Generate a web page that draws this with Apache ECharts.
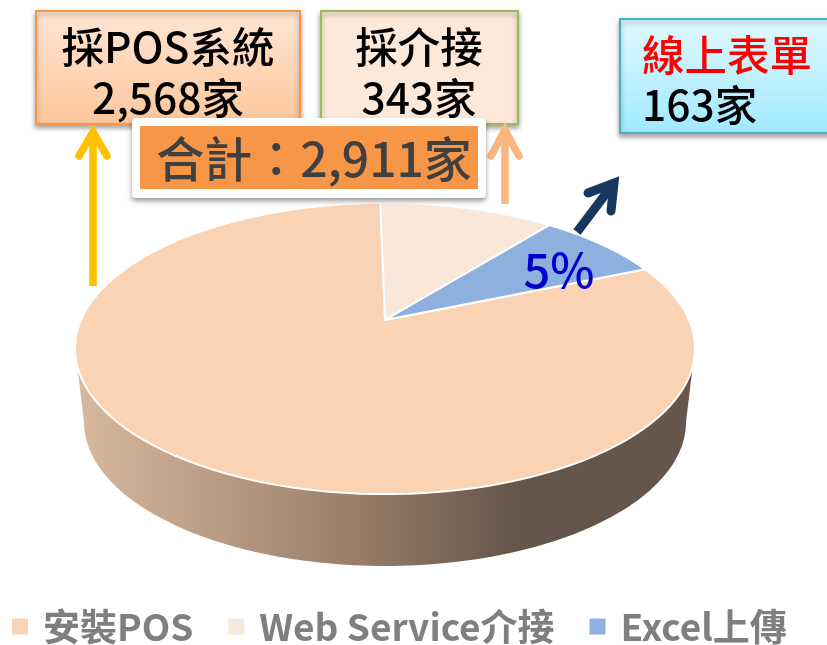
<!DOCTYPE html>
<html>
<head>
<meta charset="utf-8">
<style>
  html, body { margin: 0; padding: 0; background: #fff; }
  #chart { width: 827px; height: 645px; }
</style>
<script src="https://cdn.jsdelivr.net/npm/echarts@6/dist/echarts.min.js"></script>
</head>
<body>
<div id="chart"></div>
<script>
// slices, clockwise from the right-hand edge of the Excel slice (shares as drawn in the picture)
var sliceNames = ['安裝POS', 'Web Service介接', 'Excel上傳']
var sliceShares = [81.1, 11.0, 7.9]
var sliceColors = ['#fad2b4', '#f9e8da', '#8db0de']
var startAngle = 23

var posLines = ['採POS系統', '2,568家']
var webLines = ['採介接', '343家']
var excelLines = ['線上表單', '163家']
var totalLabel = '合計：2,911家'
var excelLabel = '5%'

var font = '"Noto Sans CJK TC", "Noto Sans", sans-serif'

// perspective view of the round pie top
function piePoint (deg) {
  var a = deg * Math.PI / 180
  var w = 1 + 0.196 * Math.sin(a)
  return [385 + 304 * Math.cos(a) / w, 320 - 140 * Math.sin(a) / w]
}

function sliceSeries (idx) {
  var total = sliceShares.reduce(function (s, v) { return s + v }, 0)
  var before = sliceShares.slice(0, idx).reduce(function (s, v) { return s + v }, 0)
  return {
    name: sliceNames[idx],
    type: 'custom',
    coordinateSystem: 'none',
    z: 3,
    silent: true,
    itemStyle: { color: sliceColors[idx] },
    data: [[sliceShares[idx]]],
    renderItem: function (params, api) {
      var from = startAngle - before / total * 360
      var span = api.value(0) / total * 360
      var points = [[385, 320]]
      for (var i = 0; i <= 120; i++) {
        points.push(piePoint(from - span * i / 120))
      }
      return {
        type: 'polygon',
        shape: { points: points },
        style: { fill: sliceColors[idx], stroke: '#fff', lineWidth: 2, lineJoin: 'round' }
      }
    }
  }
}

var wallSeries = {
  name: 'wall',
  type: 'custom',
  coordinateSystem: 'none',
  z: 2,
  silent: true,
  data: [[0]],
  renderItem: function () {
    var points = []
    var i
    for (i = 0; i <= 120; i++) {
      points.push(piePoint(198 + 144 * i / 120))
    }
    for (i = 0; i <= 120; i++) {
      var a = Math.PI * i / 120
      points.push([385 + 301 * Math.cos(a), 422 + 144 * Math.sin(a)])
    }
    return {
      type: 'polygon',
      shape: { points: points },
      style: {
        fill: {
          type: 'linear', x: 76, y: 0, x2: 695, y2: 0, global: true,
          colorStops: [
            { offset: 0, color: '#d9b99e' },
            { offset: 0.44, color: '#9a806b' },
            { offset: 0.71, color: '#65554a' },
            { offset: 1, color: '#65554a' }
          ]
        }
      }
    }
  }
}

function box (x, y, w, h, fill, stroke, z) {
  return {
    type: 'rect',
    z: z,
    shape: { x: x, y: y, width: w, height: h },
    style: {
      fill: fill,
      stroke: stroke,
      lineWidth: 2,
      shadowBlur: 5,
      shadowOffsetY: 3,
      shadowColor: 'rgba(0,0,0,0.35)'
    }
  }
}

function vGrad (top, bottom) {
  return {
    type: 'linear', x: 0, y: 0, x2: 0, y2: 1,
    colorStops: [{ offset: 0, color: top }, { offset: 1, color: bottom }]
  }
}

function label (str, x, y, size, color, align, z) {
  return {
    type: 'text',
    z: z,
    x: x,
    y: y,
    style: {
      text: str,
      fill: color,
      font: '500 ' + size + 'px ' + font,
      align: align,
      verticalAlign: 'middle'
    }
  }
}

function arrow (x1, y1, x2, y2, hx1, hy1, hx2, hy2, color, width, z) {
  return {
    type: 'group',
    z: z,
    children: [
      {
        type: 'line',
        z: z,
        shape: { x1: x1, y1: y1, x2: x2, y2: y2 },
        style: { stroke: color, lineWidth: width }
      },
      {
        type: 'polyline',
        z: z,
        shape: { points: [[hx1, hy1], [x2, y2], [hx2, hy2]] },
        style: { stroke: color, lineWidth: width, fill: null, lineCap: 'round', lineJoin: 'miter' }
      }
    ]
  }
}

var chart = echarts.init(document.getElementById('chart'))
chart.setOption({
  backgroundColor: '#fff',
  animation: false,
  legend: {
    left: 5,
    top: 608,
    data: sliceNames,
    icon: 'rect',
    itemWidth: 16,
    itemHeight: 16,
    itemGap: 35,
    padding: [0, 0, 0, 7],
    textStyle: { color: '#7f7f7f', fontSize: 37, fontWeight: 'bold', fontFamily: font, padding: [0, 0, 0, 10] }
  },
  series: [wallSeries, sliceSeries(0), sliceSeries(1), sliceSeries(2)],
  graphic: { elements: [
    box(36, 11, 264, 113, vGrad('#ffe6d5', '#fcc69b'), '#f79646', 10),
    label(posLines[0], 168, 47, 42.5, '#000', 'center', 11),
    label(posLines[1], 168, 98, 42.5, '#000', 'center', 11),
    box(321, 11, 197, 113, '#fde9d9', '#9bbb59', 10),
    label(webLines[0], 419, 47, 42.5, '#000', 'center', 11),
    label(webLines[1], 419, 98, 42.5, '#000', 'center', 11),
    box(620, 19, 230, 114, vGrad('#e2f9ff', '#a0e9ff'), '#4bacc6', 10),
    label(excelLines[0], 642, 55, 42.5, '#ff0000', 'left', 11),
    label(excelLines[1], 642, 105, 42.5, '#000', 'left', 11),
    arrow(93, 286, 93, 132, 79, 156, 107, 156, '#ffc000', 7.5, 12),
    arrow(505, 204, 505, 130, 491, 156, 519, 156, '#fbb57f', 7.5, 12),
    arrow(577, 232, 614, 183, 588, 193, 611, 211, '#17375e', 9, 12),
    {
      type: 'rect',
      z: 13,
      shape: { x: 132, y: 118, width: 354, height: 80, r: 4 },
      style: { fill: '#fff', shadowBlur: 5, shadowOffsetY: 3, shadowColor: 'rgba(0,0,0,0.4)' }
    },
    { type: 'rect', z: 14, shape: { x: 140, y: 126, width: 338, height: 63 }, style: { fill: '#f79646' } },
    label(totalLabel, 314, 159, 48, '#404040', 'center', 15),
    label(excelLabel, 559, 270, 47, '#0000cc', 'center', 15)
  ] }
})
</script>
</body>
</html>
